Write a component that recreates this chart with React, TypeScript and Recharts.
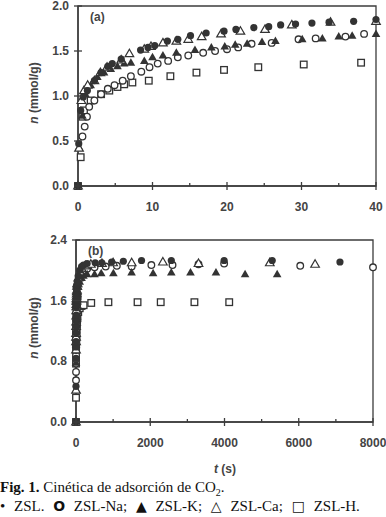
import { ScatterChart, Scatter, XAxis, YAxis, ReferenceArea } from "recharts";

// panel (a): first 40 s, values in mmol/g
const ZSL_T = [0, 0.1, 0.36, 0.7, 1.26, 2.2, 3.1, 4.0, 4.6, 5.8, 8.4, 9.4, 10.3, 12.0, 13.4, 15.1, 17.2, 19.6, 21.2, 23.6, 25.6, 27.2, 29.2, 31.4, 33.7, 37.0, 40.0];
const ZSL_N = [0, 0.47, 0.84, 0.99, 1.06, 1.17, 1.26, 1.33, 1.36, 1.41, 1.51, 1.54, 1.56, 1.61, 1.63, 1.67, 1.70, 1.72, 1.74, 1.76, 1.77, 1.79, 1.80, 1.81, 1.82, 1.83, 1.85];

const NA_T = [0, 0.6, 0.9, 1.2, 1.5, 2.2, 3.1, 4.0, 4.9, 6.0, 7.1, 8.5, 9.6, 10.7, 12.1, 13.4, 14.8, 16.8, 18.4, 20.0, 21.5, 23.3, 26.0, 29.6, 31.9, 35.9, 38.4];
const NA_N = [0, 0.55, 0.66, 0.77, 0.88, 0.95, 1.02, 1.08, 1.12, 1.17, 1.22, 1.27, 1.32, 1.36, 1.39, 1.43, 1.45, 1.48, 1.50, 1.52, 1.54, 1.58, 1.59, 1.63, 1.64, 1.66, 1.69];

const K_T = [0, 0.14, 0.6, 1.0, 1.7, 2.6, 3.5, 4.4, 5.3, 6.2, 7.1, 8.9, 10.0, 11.4, 13.2, 15.7, 17.9, 19.7, 21.1, 22.7, 24.7, 26.5, 30.1, 32.8, 35.0, 36.8, 40.0];
const K_N = [0, 0.43, 0.78, 1.02, 1.12, 1.21, 1.26, 1.30, 1.33, 1.36, 1.37, 1.39, 1.43, 1.45, 1.48, 1.51, 1.54, 1.55, 1.57, 1.58, 1.60, 1.61, 1.63, 1.64, 1.66, 1.67, 1.69];

const CA_T = [0, 0.14, 0.45, 0.8, 1.3, 2.2, 3.0, 3.9, 5.8, 6.9, 8.9, 9.8, 11.4, 13.2, 14.8, 16.6, 19.2, 21.8, 25.1, 28.7, 33.9, 40.0];
const CA_N = [0, 0.42, 0.95, 1.06, 1.12, 1.17, 1.26, 1.32, 1.40, 1.47, 1.52, 1.55, 1.59, 1.61, 1.63, 1.66, 1.69, 1.72, 1.74, 1.79, 1.82, 1.83];

const H_T = [0, 0.36, 0.6, 0.8, 1.7, 3.1, 4.2, 5.3, 6.2, 7.3, 9.5, 12.4, 15.9, 19.6, 24.2, 30.3, 38.0];
const H_N = [0, 0.32, 0.77, 0.84, 0.95, 1.02, 1.06, 1.10, 1.13, 1.15, 1.17, 1.22, 1.26, 1.29, 1.32, 1.35, 1.37];

// panel (b): extra points after 40 s
const ZSL_T2 = [60, 100, 150, 200, 300, 517, 695, 960, 1275, 1765, 2567, 3990, 5285, 7110];
const ZSL_N2 = [1.92, 2.0, 2.05, 2.07, 2.09, 2.1, 2.1, 2.11, 2.12, 2.13, 2.13, 2.13, 2.13, 2.11];
const NA_T2 = [60, 100, 150, 200, 300, 500, 800, 1100, 1500, 2030, 2600, 3300, 3990, 6040, 8000];
const NA_N2 = [1.85, 1.93, 1.98, 2.0, 2.02, 2.04, 2.05, 2.06, 2.05, 2.07, 2.07, 2.08, 2.09, 2.06, 2.04];
const K_T2 = [60, 100, 150, 200, 300, 500, 680, 1007, 1497, 2077, 2567, 3084, 3770, 4554, 5419];
const K_N2 = [1.78, 1.85, 1.9, 1.93, 1.95, 1.95, 1.96, 1.96, 1.97, 1.96, 1.97, 1.97, 1.97, 1.95, 1.95];
const CA_T2 = [60, 100, 150, 250, 400, 700, 1000, 1500, 2340, 3300, 5220, 6440];
const CA_N2 = [1.9, 1.98, 2.03, 2.06, 2.08, 2.09, 2.1, 2.1, 2.11, 2.09, 2.1, 2.08];
const H_T2 = [60, 100, 150, 205, 410, 873, 1658, 2282, 3190, 4127];
const H_N2 = [1.45, 1.5, 1.53, 1.54, 1.57, 1.58, 1.58, 1.58, 1.58, 1.58];

const A_XTICKS = [0, 5, 10, 15, 20, 25, 30, 35, 40];
const A_XLABELS = [0, 10, 20, 30, 40];
const A_YTICKS = [0, 0.5, 1.0, 1.5, 2.0];
const B_XTICKS = [0, 1000, 2000, 3000, 4000, 5000, 6000, 7000, 8000];
const B_XLABELS = [0, 2000, 4000, 6000, 8000];
const B_YTICKS = [0, 0.8, 1.6, 2.4];

const INK = "#333";
const AXIS = "#3c3c3c";
const SANS = "'Liberation Sans', Arial, sans-serif";

const zip = (t: number[], n: number[]) => t.map((v, i) => ({ t: v, n: n[i] }));

const shapes: Record<string, (p: any) => any> = {
  dot: (p) => <circle cx={p.cx} cy={p.cy} r={3.6} fill={INK} />,
  ring: (p) => <circle cx={p.cx} cy={p.cy} r={3.3} fill="#fff" stroke={INK} strokeWidth={1.3} />,
  tri: (p) => (
    <path d={`M${p.cx},${p.cy - 4.5}L${p.cx + 4.3},${p.cy + 3}L${p.cx - 4.3},${p.cy + 3}Z`} fill={INK} />
  ),
  otri: (p) => (
    <path
      d={`M${p.cx},${p.cy - 4.5}L${p.cx + 4.3},${p.cy + 3}L${p.cx - 4.3},${p.cy + 3}Z`}
      fill="#fff"
      stroke={INK}
      strokeWidth={1.2}
    />
  ),
  sq: (p) => (
    <rect x={p.cx - 3.3} y={p.cy - 3.3} width={6.6} height={6.6} fill="#fff" stroke={INK} strokeWidth={1.3} />
  ),
};

function XTick(props: any, labels: number[]) {
  const { x, y, payload } = props;
  const major = labels.includes(payload.value);
  return (
    <g>
      <line x1={x} x2={x} y1={major ? y - 4 : y - 3} y2={major ? y + 4 : y} stroke={AXIS} strokeWidth={1.3} />
      {major && (
        <text x={x} y={y + 25} textAnchor="middle" fontFamily={SANS} fontWeight="bold" fontSize={12} fill="#444">
          {payload.value}
        </text>
      )}
    </g>
  );
}

function YTick(props: any) {
  const { x, y, payload } = props;
  return (
    <g>
      <line x1={x - 4} x2={x + 4} y1={y} y2={y} stroke={AXIS} strokeWidth={1.3} />
      <text x={x - 9} y={y + 4} textAnchor="end" fontFamily={SANS} fontWeight="bold" fontSize={12} fill="#444">
        {Number(payload.value).toFixed(1)}
      </text>
    </g>
  );
}

function YTitle({ x, y }: { x: number; y: number }) {
  return (
    <div
      style={{
        position: "absolute",
        left: x - 60,
        top: y - 8,
        width: 120,
        textAlign: "center",
        transform: "rotate(-90deg)",
        fontFamily: SANS,
        fontWeight: "bold",
        fontSize: 12,
        color: "#444",
        lineHeight: "16px",
      }}
    >
      <i>n</i> (mmol/g)
    </div>
  );
}

type Series = { key: string; data: { t: number; n: number }[]; shape: string };

function Panel({
  series,
  xMax,
  yMax,
  xTicks,
  xLabels,
  yTicks,
  tag,
  margin,
  height,
}: {
  series: Series[];
  xMax: number;
  yMax: number;
  xTicks: number[];
  xLabels: number[];
  yTicks: number[];
  tag: string;
  margin: { top: number; right: number; left: number; bottom: number };
  height: number;
}) {
  return (
    <ScatterChart width={386} height={height} margin={margin}>
      <XAxis
        type="number"
        dataKey="t"
        domain={[0, xMax]}
        ticks={xTicks}
        interval={0}
        tickSize={0}
        tickMargin={0}
        tickLine={false}
        axisLine={{ stroke: AXIS, strokeWidth: 1.5 }}
        tick={(p: any) => XTick(p, xLabels)}
        height={30}
      />
      <YAxis
        type="number"
        dataKey="n"
        domain={[0, yMax]}
        ticks={yTicks}
        interval={0}
        tickSize={0}
        tickMargin={0}
        tickLine={false}
        axisLine={{ stroke: AXIS, strokeWidth: 1.5 }}
        tick={YTick}
        width={50}
      />
      <ReferenceArea x1={0} x2={xMax} y1={0} y2={yMax} fill="none" stroke={AXIS} strokeWidth={1.3} ifOverflow="visible" />
      {series.map((s) => (
        <Scatter key={s.key} name={s.key} data={s.data} shape={shapes[s.shape]} isAnimationActive={false} />
      ))}
      <text x={margin.left + 62} y={margin.top + 15} fontFamily={SANS} fontWeight="bold" fontSize={12} fill="#444">
        {tag}
      </text>
    </ScatterChart>
  );
}

export default function App() {
  const seriesA: Series[] = [
    { key: "ZSL-H", data: zip(H_T, H_N), shape: "sq" },
    { key: "ZSL-Na", data: zip(NA_T, NA_N), shape: "ring" },
    { key: "ZSL-K", data: zip(K_T, K_N), shape: "tri" },
    { key: "ZSL-Ca", data: zip(CA_T, CA_N), shape: "otri" },
    { key: "ZSL", data: zip(ZSL_T, ZSL_N), shape: "dot" },
  ];
  const seriesB: Series[] = [
    { key: "ZSL-H", data: zip([...H_T, ...H_T2], [...H_N, ...H_N2]), shape: "sq" },
    { key: "ZSL-Na", data: zip([...NA_T, ...NA_T2], [...NA_N, ...NA_N2]), shape: "ring" },
    { key: "ZSL-K", data: zip([...K_T, ...K_T2], [...K_N, ...K_N2]), shape: "tri" },
    { key: "ZSL-Ca", data: zip([...CA_T, ...CA_T2], [...CA_N, ...CA_N2]), shape: "otri" },
    { key: "ZSL", data: zip([...ZSL_T, ...ZSL_T2], [...ZSL_N, ...ZSL_N2]), shape: "dot" },
  ];

  const sym = { fontFamily: "'DejaVu Sans', sans-serif", fontSize: 14 };

  return (
    <div style={{ position: "absolute", left: 0, top: 0, width: 386, height: 517, background: "#fff", overflow: "hidden" }}>
      <div style={{ position: "absolute", left: 0, top: 0 }}>
        <Panel
          series={seriesA}
          xMax={40}
          yMax={2}
          xTicks={A_XTICKS}
          xLabels={A_XLABELS}
          yTicks={A_YTICKS}
          tag="(a)"
          margin={{ top: 6, right: 10, left: 28, bottom: 14 }}
          height={230}
        />
      </div>
      <div style={{ position: "absolute", left: 0, top: 230 }}>
        <Panel
          series={seriesB}
          xMax={8000}
          yMax={2.4}
          xTicks={B_XTICKS}
          xLabels={B_XLABELS}
          yTicks={B_YTICKS}
          tag="(b)"
          margin={{ top: 10, right: 13, left: 26, bottom: 8 }}
          height={230}
        />
      </div>
      <YTitle x={34} y={93} />
      <YTitle x={34} y={328} />
      <div
        style={{
          position: "absolute",
          left: 200,
          top: 462,
          width: 50,
          textAlign: "center",
          fontFamily: SANS,
          fontWeight: "bold",
          fontSize: 12,
          color: "#444",
        }}
      >
        <i>t</i> (s)
      </div>
      <div
        style={{
          position: "absolute",
          left: 0,
          top: 478,
          fontFamily: "'Liberation Serif', 'Times New Roman', serif",
          fontSize: 15,
          lineHeight: "19px",
          color: "#111",
          whiteSpace: "nowrap",
        }}
      >
        <div>
          <b>Fig. 1.</b> Cinética de adsorción de CO<sub style={{ fontSize: 10, lineHeight: 0 }}>2</sub>.
        </div>
        <div style={{ wordSpacing: 5 }}>
          • ZSL. <b style={sym}>O</b> ZSL-Na; <span style={sym}>▲</span> ZSL-K; <span style={sym}>△</span> ZSL-Ca;{" "}
          <b style={sym}>□</b> ZSL-H.
        </div>
      </div>
    </div>
  );
}
